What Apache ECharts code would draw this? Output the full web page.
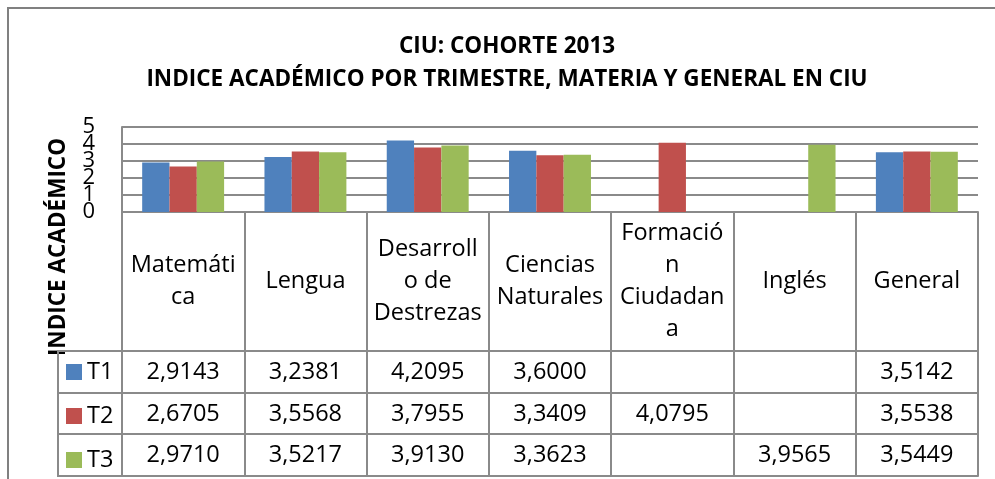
<!DOCTYPE html>
<html>
<head>
<meta charset="utf-8">
<script src="https://cdn.jsdelivr.net/npm/echarts@6/dist/echarts.min.js"></script>
<style>
  html, body { margin: 0; padding: 0; background: #fff; }
  #main { width: 995px; height: 479px; }
</style>
</head>
<body>
<div id="main"></div>
<script>
const categories = ['Matemática', 'Lengua', 'Desarrollo de Destrezas', 'Ciencias Naturales', 'Formación Ciudadana', 'Inglés', 'General']
const headerLabels = ['Matemáti\nca', 'Lengua', 'Desarroll\no de\nDestrezas', 'Ciencias\nNaturales', 'Formació\nn\nCiudadan\na', 'Inglés', 'General']
const seriesNames = ['T1', 'T2', 'T3']
const t1 = [2.9143, 3.2381, 4.2095, 3.6000, null, null, 3.5142]
const t2 = [2.6705, 3.5568, 3.7955, 3.3409, 4.0795, null, 3.5538]
const t3 = [2.9710, 3.5217, 3.9130, 3.3623, null, 3.9565, 3.5449]
const colors = ['#4F81BD', '#C0504D', '#9BBB59']

const font = 'Open Sans'
const gray = '#8a8a8a'
const rows = [t1, t2, t3]

// valor con coma decimal, como en la tabla de Excel
function fmt(v) {
  return v == null ? '' : v.toFixed(4).replace('.', ',')
}

const rowOffsets = [139, 181, 222]
const rowTicks = [42, 41, 42]

const xAxes = [
  {
    type: 'category',
    data: categories,
    position: 'bottom',
    axisLine: { onZero: false, lineStyle: { color: gray, width: 2 } },
    axisTick: { show: true, interval: 0, length: 139, lineStyle: { color: gray, width: 2 } },
    axisLabel: {
      interval: 0,
      margin: 69,
      verticalAlign: 'middle',
      fontFamily: font,
      fontSize: 23.5,
      lineHeight: 32,
      color: '#000',
      formatter: (v, i) => headerLabels[i]
    }
  }
]
rows.forEach((r, k) => {
  xAxes.push({
    type: 'category',
    data: categories,
    position: 'bottom',
    offset: rowOffsets[k],
    axisLine: { onZero: false, lineStyle: { color: gray, width: 2 } },
    axisTick: { show: true, interval: 0, length: rowTicks[k], lineStyle: { color: gray, width: 2 } },
    axisLabel: {
      interval: 0,
      margin: 21,
      verticalAlign: 'middle',
      fontFamily: font,
      fontSize: 23.5,
      color: '#000',
      formatter: (v, i) => fmt(r[i])
    }
  })
})
// linea inferior de la tabla
xAxes.push({
  type: 'category',
  data: categories,
  position: 'bottom',
  offset: 264,
  axisLine: { onZero: false, lineStyle: { color: gray, width: 2 } },
  axisTick: { show: false },
  axisLabel: { show: false }
})

const yLabel = { margin: 27, fontFamily: font, fontSize: 22, color: '#000' }

const titleStyle = { fontFamily: font, fontWeight: 'bold', fontSize: 22.5, fill: '#000', align: 'center', verticalAlign: 'middle' }

const option = {
  animation: false,
  color: colors,
  legend: {
    orient: 'vertical',
    left: 66,
    top: 360,
    padding: 0,
    itemGap: 20,
    itemWidth: 16,
    itemHeight: 16,
    icon: 'rect',
    data: seriesNames,
    textStyle: { fontFamily: font, fontSize: 23.5, lineHeight: 22, color: '#000' }
  },
  grid: { left: 122, right: 17, top: 127, height: 85 },
  xAxis: xAxes,
  yAxis: [
    {
      // eje principal: lineas, 0 y 5
      type: 'value',
      min: 0,
      max: 5,
      interval: 1,
      axisLine: { show: true, lineStyle: { color: gray, width: 2 } },
      axisTick: { show: false },
      splitLine: { lineStyle: { color: gray, width: 2 } },
      axisLabel: Object.assign({
        showMinLabel: true,
        showMaxLabel: true,
        formatter: (v) => (v === 0 || v === 5 ? String(v) : '')
      }, yLabel)
    },
    {
      // etiquetas intermedias (se solapan, como en el original)
      type: 'value',
      position: 'left',
      min: 0,
      max: 5,
      interval: 1,
      axisLine: { show: false },
      axisTick: { show: false },
      splitLine: { show: false },
      axisLabel: Object.assign({ showMinLabel: false, showMaxLabel: false }, yLabel)
    }
  ],
  graphic: [
    {
      type: 'rect',
      shape: { x: 8, y: 8, width: 1100, height: 600 },
      style: { fill: 'none', stroke: '#808080', lineWidth: 2 }
    },
    { type: 'text', x: 507, y: 47, style: Object.assign({ text: 'CIU: COHORTE 2013' }, titleStyle) },
    { type: 'text', x: 507, y: 80, style: Object.assign({ text: 'INDICE ACADÉMICO POR TRIMESTRE, MATERIA Y GENERAL EN CIU' }, titleStyle) },
    {
      type: 'text',
      x: 59,
      y: 247,
      rotation: Math.PI / 2,
      style: {
        text: 'INDICE ACADÉMICO',
        fontFamily: font,
        fontWeight: 'bold',
        fontSize: 22.5,
        fill: '#000',
        align: 'center',
        verticalAlign: 'middle'
      }
    },
    // columna de la leyenda en la tabla
    { type: 'line', shape: { x1: 58, y1: 350, x2: 58, y2: 477 }, style: { stroke: gray, lineWidth: 2 } },
    { type: 'line', shape: { x1: 57, y1: 351, x2: 122, y2: 351 }, style: { stroke: gray, lineWidth: 2 } },
    { type: 'line', shape: { x1: 57, y1: 393, x2: 122, y2: 393 }, style: { stroke: gray, lineWidth: 2 } },
    { type: 'line', shape: { x1: 57, y1: 434, x2: 122, y2: 434 }, style: { stroke: gray, lineWidth: 2 } },
    { type: 'line', shape: { x1: 57, y1: 476, x2: 122, y2: 476 }, style: { stroke: gray, lineWidth: 2 } }
  ],
  series: rows.map((r, k) => ({
    name: seriesNames[k],
    type: 'bar',
    data: r,
    barGap: 0,
    barCategoryGap: '33%',
    itemStyle: { color: colors[k] }
  }))
}

const chart = echarts.init(document.getElementById('main'))
chart.setOption(option)
</script>
</body>
</html>
